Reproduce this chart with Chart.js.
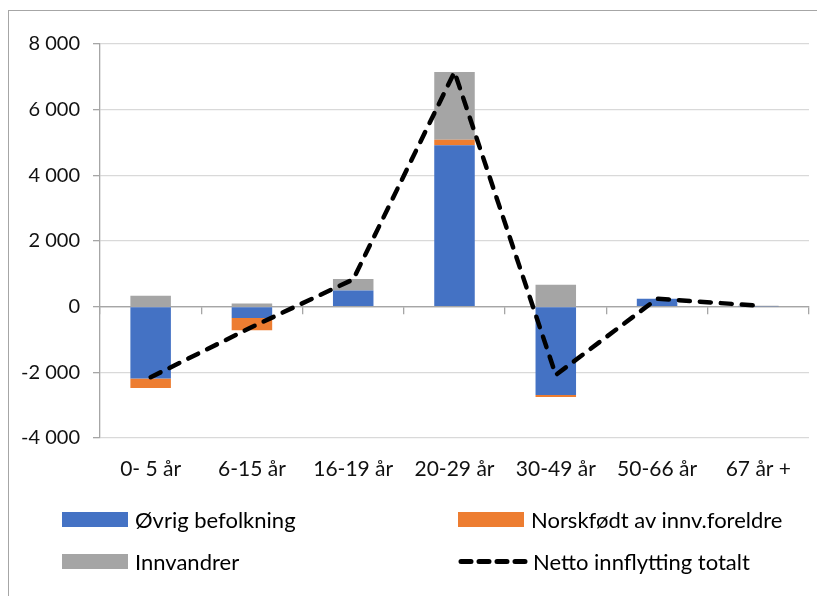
<!DOCTYPE html>
<html><head><meta charset="utf-8">
<script src="https://cdn.jsdelivr.net/npm/chart.js@4"></script>
<style>
html,body{margin:0;padding:0;background:#fff;}
#wrap{position:relative;width:817px;height:596px;overflow:hidden;font-family:Lato,sans-serif;}
#frame{position:absolute;left:8px;top:10px;width:900px;height:700px;border-left:1.5px solid #a6a6a6;border-top:1.5px solid #a6a6a6;}
canvas{position:absolute;left:0;top:0;}
.leg{position:absolute;display:flex;align-items:center;font-size:22px;color:#000;white-space:nowrap;height:26px;}
.sw{width:66px;height:15px;margin-right:7px;flex:none;}
</style></head>
<body><div id="wrap"><div id="frame"></div><canvas id="c" width="817" height="596"></canvas><div id="legend"></div></div>
<script>
const categories = ['0- 5 år', '6-15 år', '16-19 år', '20-29 år', '30-49 år', '50-66 år', '67 år +'];
const ovrig = [-2190, -345, 490, 4920, -2690, 240, 10];
const norskfodt = [-290, -375, -20, 160, -60, 0, 0];
const innvandrer = [330, 100, 355, 2070, 670, 0, 20];
const netto = [-2150, -620, 830, 7150, -2080, 240, 30];
const seriesLabels = ['Øvrig befolkning', 'Norskfødt av innv.foreldre', 'Innvandrer', 'Netto innflytting totalt'];
const yMin = -4000, yMax = 8000, yStep = 2000;

const colors = ['#4472C4', '#ED7D31', '#A5A5A5', '#000000'];
function fmt(v){
  const s = Math.abs(v).toString().replace(/\B(?=(\d{3})+(?!\d))/g, ' ');
  return (v < 0 ? '-' : '') + s;
}
const yFont = {family: 'Lato, sans-serif', size: 20};
const xFont = {family: 'Lato, sans-serif', size: 21};

new Chart(document.getElementById('c'), {
  data: {
    labels: categories,
    datasets: [
      {type:'bar', label: seriesLabels[0], data: ovrig, backgroundColor: colors[0], order: 1, stack: 'bars'},
      {type:'bar', label: seriesLabels[1], data: norskfodt, backgroundColor: colors[1], order: 1, stack: 'bars'},
      {type:'bar', label: seriesLabels[2], data: innvandrer, backgroundColor: colors[2], order: 1, stack: 'bars'},
      {type:'line', label: seriesLabels[3], data: netto, borderColor: colors[3], borderWidth: 4.5,
       borderDash: [11, 10], borderCapStyle: 'round', borderJoinStyle: 'round', pointRadius: 0, tension: 0, order: 0, stack: 'net', fill: false}
    ]
  },
  options: {
    responsive: false, animation: false,
    layout: {padding: {left: 0, right: 8, top: 44, bottom: 108}},
    datasets: {bar: {barPercentage: 0.4, categoryPercentage: 1}},
    plugins: {legend: {display: false}, tooltip: {enabled: false}},
    scales: {
      x: {
        stacked: true, offset: true,
        grid: {display: false, drawTicks: false},
        border: {display: false},
        ticks: {font: xFont, color: '#111', padding: 19, maxRotation: 0},
        afterFit(s){ s.height = 50; }
      },
      x2: {
        type: 'category', labels: categories, offset: true, position: {y: 0},
        grid: {offset: true, drawOnChartArea: false, drawTicks: true, tickLength: 7, color: '#a6a6a6', lineWidth: 1.3},
        border: {display: true, color: '#a6a6a6', width: 1.3},
        ticks: {display: false}
      },
      y: {
        stacked: true, min: yMin, max: yMax,
        ticks: {stepSize: yStep, font: yFont, color: '#111', padding: 13, callback: v => fmt(v)},
        grid: {color: ctx => (ctx.tick && ctx.tick.value === 0) ? '#a6a6a6' : '#d9d9d9', lineWidth: 1.3, drawTicks: true, tickLength: 7, tickColor: '#a6a6a6'},
        border: {display: true, color: '#a6a6a6', width: 1.3},
        afterFit(s){ s.width = 100; }
      }
    }
  }
});

// HTML legend built from the series labels/colours
const legendPos = [[62, 506], [458, 506], [62, 548], [458, 548]];
const lg = document.getElementById('legend');
seriesLabels.forEach((lab, i) => {
  const d = document.createElement('div');
  d.className = 'leg';
  d.style.left = legendPos[i][0] + 'px';
  d.style.top = legendPos[i][1] + 'px';
  let sw;
  if (i === 3) {
    sw = '<svg width="72" height="15" style="margin-right:3px;flex:none"><line x1="3" y1="7.5" x2="69" y2="7.5" stroke="#000" stroke-width="5" stroke-linecap="round" stroke-dasharray="10 8"/></svg>';
  } else {
    sw = '<div class="sw" style="background:' + colors[i] + '"></div>';
  }
  d.innerHTML = sw + '<span>' + lab + '</span>';
  lg.appendChild(d);
});
</script>
</body></html>
